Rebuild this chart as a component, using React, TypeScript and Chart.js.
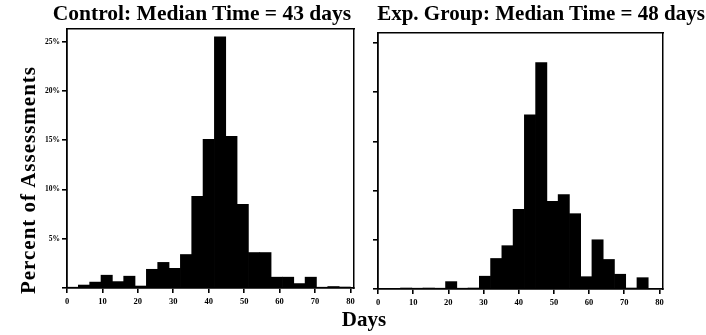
import React, { useEffect, useRef } from 'react';
import { Chart, registerables } from 'chart.js';

Chart.register(...registerables);

// Histogram bins: 25 bins of 3.2 days from 0 to 80 (bin centres)
const binCenters = [
  1.6, 4.8, 8.0, 11.2, 14.4, 17.6, 20.8, 24.0, 27.2, 30.4, 33.6, 36.8, 40.0,
  43.2, 46.4, 49.6, 52.8, 56.0, 59.2, 62.4, 65.6, 68.8, 72.0, 75.2, 78.4,
];

// Percent of assessments per bin
const controlPercent = [
  0.05, 0.3, 0.6, 1.3, 0.65, 1.2, 0.2, 1.9, 2.6, 2.0, 3.4, 9.3, 15.1,
  25.5, 15.4, 8.5, 3.6, 3.6, 1.1, 1.1, 0.45, 1.1, 0.05, 0.15, 0.1,
];
const expPercent = [
  0, 0, 0.1, 0.05, 0.1, 0.05, 0.75, 0.05, 0.1, 1.3, 3.1, 4.4, 8.1,
  17.7, 23.0, 8.9, 9.6, 7.65, 1.25, 5.0, 3.0, 1.5, 0.1, 1.15, 0,
];

const dayTicks = [0, 10, 20, 30, 40, 50, 60, 70, 80];
const percentTicks = [0, 5, 10, 15, 20, 25];

const controlTitle = 'Control: Median Time = 43 days';
const expTitle = 'Exp. Group: Median Time = 48 days';
const yTitle = 'Percent of Assessments';
const xTitle = 'Days';

const SERIF = "'Liberation Serif', 'Times New Roman', serif";

type PanelOpts = {
  values: number[];
  yMax: number;
  yWidth: number;
  xHeight: number;
  padding: { left: number; top: number; right: number; bottom: number };
  showYLabels: boolean;
};

function makeConfig(o: PanelOpts): any {
  return {
    type: 'bar',
    data: {
      datasets: [
        {
          data: binCenters.map((x, i) => ({ x, y: o.values[i] })),
          backgroundColor: '#000',
          borderWidth: 0,
          barPercentage: 1,
          categoryPercentage: 1,
          xAxisID: 'x',
          yAxisID: 'y',
        },
      ],
    },
    options: {
      responsive: false,
      animation: false,
      layout: { padding: o.padding },
      plugins: {
        legend: { display: false },
        title: { display: false },
        tooltip: { enabled: false },
      },
      scales: {
        x: {
          type: 'linear',
          position: 'bottom',
          offset: false,
          min: 0,
          max: 81,
          afterBuildTicks: (scale: any) => {
            scale.ticks = dayTicks.map((v) => ({ value: v }));
          },
          afterFit: (scale: any) => {
            scale.height = o.xHeight;
          },
          ticks: {
            color: '#000',
            font: { family: SERIF, weight: 'bold' as const, size: 8.5 },
            padding: 4,
            maxRotation: 0,
            autoSkip: false,
          },
          grid: {
            display: true,
            offset: false,
            drawOnChartArea: false,
            drawTicks: true,
            tickLength: 5,
            color: '#000',
            lineWidth: 1.6,
          },
          border: { display: true, color: '#000', width: 1.8 },
        },
        y: {
          type: 'linear',
          position: 'left',
          min: 0,
          max: o.yMax,
          afterBuildTicks: (scale: any) => {
            scale.ticks = percentTicks.map((v) => ({ value: v }));
          },
          afterFit: (scale: any) => {
            scale.width = o.yWidth;
          },
          ticks: {
            display: o.showYLabels,
            color: '#000',
            font: { family: SERIF, weight: 'bold' as const, size: 7.5 },
            padding: 2,
            callback: (v: number) => (v === 0 ? '' : v + '%'),
          },
          grid: {
            display: true,
            drawOnChartArea: false,
            drawTicks: true,
            tickLength: 5,
            color: '#000',
            lineWidth: 1.6,
          },
          border: { display: true, color: '#000', width: 1.8 },
        },
        x2: {
          type: 'linear',
          position: 'top',
          offset: false,
          min: 0,
          max: 81,
          afterFit: (scale: any) => {
            scale.height = 0;
          },
          ticks: { display: false },
          grid: { display: false },
          border: { display: true, color: '#000', width: 1.5 },
        },
        y2: {
          type: 'linear',
          position: 'right',
          min: 0,
          max: o.yMax,
          afterFit: (scale: any) => {
            scale.width = 0;
          },
          ticks: { display: false },
          grid: { display: false },
          border: { display: true, color: '#000', width: 1.5 },
        },
      },
    },
  };
}

function Panel(props: { left: number; width: number; opts: PanelOpts }) {
  const ref = useRef<HTMLCanvasElement | null>(null);
  useEffect(() => {
    if (!ref.current) return;
    const chart = new Chart(ref.current, makeConfig(props.opts));
    return () => chart.destroy();
  }, []);
  return (
    <canvas
      ref={ref}
      width={props.width}
      height={335}
      style={{ position: 'absolute', left: props.left, top: 0, width: props.width, height: 335 }}
    />
  );
}

const textStyle: React.CSSProperties = {
  position: 'absolute',
  fontFamily: SERIF,
  fontWeight: 'bold',
  color: '#000',
  whiteSpace: 'nowrap',
  textAlign: 'center',
  lineHeight: '1',
};

export default function App() {
  return (
    <div
      style={{
        position: 'fixed',
        left: 0,
        top: 0,
        width: 706,
        height: 335,
        overflow: 'hidden',
        background: '#fff',
      }}
    >
      <Panel
        left={0}
        width={362}
        opts={{
          values: controlPercent,
          yMax: 26.3,
          yWidth: 67,
          xHeight: 47,
          padding: { left: 0, top: 29, right: 8, bottom: 0 },
          showYLabels: true,
        }}
      />
      <Panel
        left={370}
        width={336}
        opts={{
          values: expPercent,
          yMax: 26.0,
          yWidth: 8,
          xHeight: 46,
          padding: { left: 0, top: 33, right: 43, bottom: 0 },
          showYLabels: false,
        }}
      />
      <div style={{ ...textStyle, left: 2, top: 3, width: 400, fontSize: 21.5 }}>{controlTitle}</div>
      <div style={{ ...textStyle, left: 341, top: 3, width: 400, fontSize: 21 }}>{expTitle}</div>
      <div
        style={{
          ...textStyle,
          left: 28 - 150,
          top: 180 - 12,
          width: 300,
          height: 24,
          lineHeight: '24px',
          fontSize: 21,
          letterSpacing: '1px',
          transform: 'rotate(-90deg)',
        }}
      >
        {yTitle}
      </div>
      <div style={{ ...textStyle, left: 364 - 50, top: 309, width: 100, fontSize: 21 }}>{xTitle}</div>
    </div>
  );
}
